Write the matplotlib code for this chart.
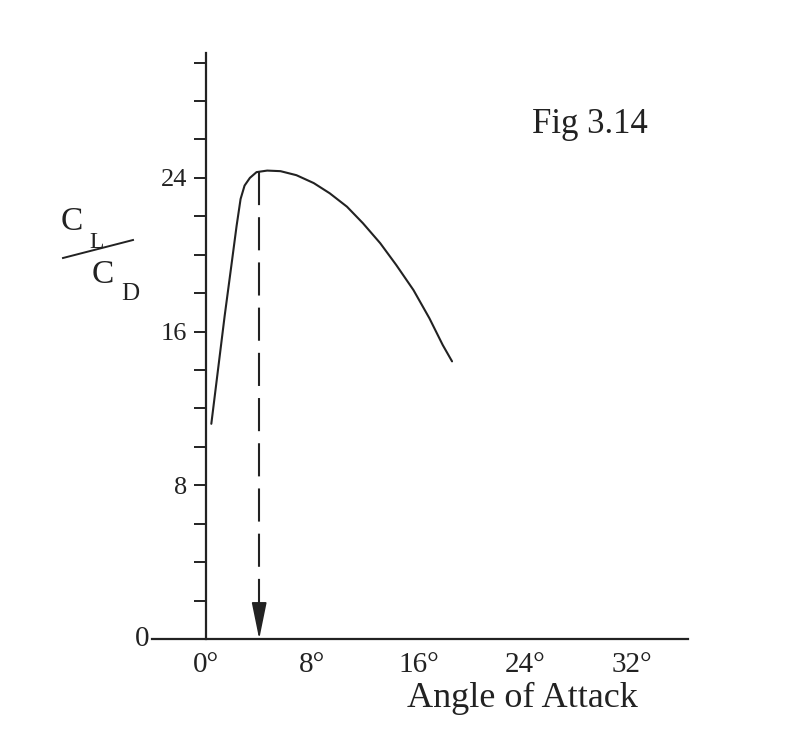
import matplotlib
matplotlib.use("Agg")
import matplotlib.pyplot as plt
from matplotlib.lines import Line2D

# Lift/drag ratio against angle of attack
ANGLE = [0.4, 1.4, 1.9, 2.3, 2.6, 2.9, 3.3, 3.8, 4.6, 5.6, 6.8, 8.1,
         9.3, 10.6, 11.8, 13.1, 14.3, 15.6, 16.8, 17.8, 18.5]
CL_CD = [11.2, 16.8, 19.4, 21.5, 22.9, 23.6, 24.0, 24.3, 24.38, 24.35, 24.14, 23.73,
         23.2, 22.5, 21.64, 20.6, 19.47, 18.16, 16.69, 15.3, 14.45]

# best L/D point (dashed arrow)
PEAK_ANGLE = 4.0
PEAK_RATIO = 24.3

X_TICKS = [0, 8, 16, 24, 32]
X_LABELS = ["0°", "8°", "16°", "24°", "32°"]
Y_TICKS = [8, 16, 24]
Y_MINOR = list(range(2, 31, 2))

INK = "#222222"
W, H = 798, 748

plt.rcParams["font.family"] = ["Liberation Serif", "DejaVu Serif"]

fig = plt.figure(figsize=(W / 100, H / 100), dpi=100)
ax = fig.add_axes([152 / W, 109 / H, 536 / W, 586 / H])
ax.set_xlim(-4.06, 36.24)
ax.set_ylim(0, 30.5)

ax.spines["top"].set_visible(False)
ax.spines["right"].set_visible(False)
ax.spines["left"].set_position(("data", 0))
for s in ("left", "bottom"):
    ax.spines[s].set_linewidth(1.6)
    ax.spines[s].set_color(INK)

ax.set_xticks(X_TICKS)
ax.set_xticklabels(X_LABELS)
ax.tick_params(axis="x", length=0, pad=9, labelsize=21, colors=INK)

ax.set_yticks(Y_TICKS)
ax.set_yticks(Y_MINOR, minor=True)
ax.tick_params(axis="y", which="both", direction="out", length=8.6, width=1.4,
               color=INK, labelcolor=INK, labelsize=19, pad=5)
ax.text(-4.25, 0, "0", ha="right", va="center", fontsize=21, color=INK, clip_on=False)

# curve
ax.plot(ANGLE, CL_CD, color=INK, lw=1.5, solid_joinstyle="round", solid_capstyle="round")

# dashed drop line with arrow head at the axis
head_top = 1.67
ln, = ax.plot([PEAK_ANGLE, PEAK_ANGLE], [PEAK_RATIO, head_top], color=INK, lw=1.5)
ln.set_dashes((15.9, 5.8))
ax.annotate("", xy=(PEAK_ANGLE, 0), xytext=(PEAK_ANGLE, head_top),
            arrowprops=dict(arrowstyle="-|>,head_length=23,head_width=4.7",
                            mutation_scale=1, color=INK, lw=1.2,
                            shrinkA=0, shrinkB=0))

# labels in pixel positions
def fx(px):
    return px / W

def fy(py):
    return 1 - py / H

fig.text(fx(522), fy(707), "Angle of Attack", ha="center", va="baseline",
         fontsize=26, color=INK)
fig.text(fx(532), fy(133), "Fig 3.14", ha="left", va="baseline", fontsize=25, color=INK)

# C_L / C_D stacked label
fig.text(fx(61), fy(230), "C", ha="left", va="baseline", fontsize=24, color=INK)
fig.text(fx(89), fy(248), "L", ha="left", va="baseline", fontsize=17, color=INK)
fig.text(fx(92), fy(283), "C", ha="left", va="baseline", fontsize=24, color=INK)
fig.text(fx(121), fy(300), "D", ha="left", va="baseline", fontsize=18, color=INK)
fig.add_artist(Line2D([fx(63), fx(133)], [fy(258), fy(240)], color=INK, lw=1.4))

fig.savefig("out.png", dpi=100)
